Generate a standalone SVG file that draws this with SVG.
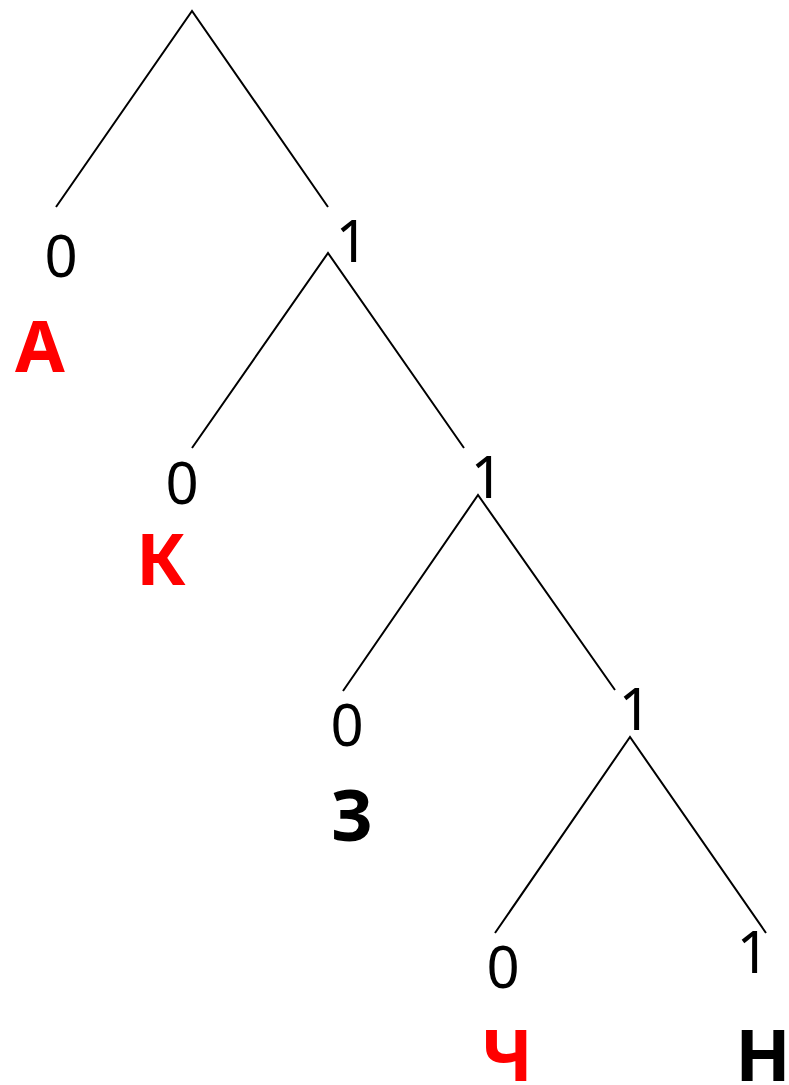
<svg xmlns="http://www.w3.org/2000/svg" width="789" height="1085" viewBox="0 0 789 1085">
<style>
.e{stroke:#000;stroke-width:2;fill:none}
.d{font-family:"Noto Sans","Open Sans",sans-serif;font-size:58px;fill:#000;text-anchor:middle}
.l{font-family:"Noto Sans","Open Sans",sans-serif;font-size:72px;font-weight:bold;text-anchor:middle}
.r{fill:#ff0000}
.k{fill:#000}
</style>
<rect width="789" height="1085" fill="#fff"/>
<g id="connectors">
<polyline class="e" points="56,207 192,11 328,207"/>
<polyline class="e" points="192,448 328,253 464,448"/>
<polyline class="e" points="343,691 478,495 615,690"/>
<polyline class="e" points="495,933 630,737 766,933"/>
</g>
<g id="n1"><text class="d" x="61" y="277">0</text><text class="l r" x="40" y="372">А</text></g>
<g id="n2"><text class="d" x="352" y="262">1</text></g>
<g id="n3"><text class="d" x="182" y="504">0</text><text class="l r" x="161" y="585">К</text></g>
<g id="n4"><text class="d" x="487" y="498">1</text></g>
<g id="n5"><text class="d" x="347" y="746">0</text><text class="l k" x="352" y="841">З</text></g>
<g id="n6"><text class="d" x="635" y="730">1</text></g>
<g id="n7"><text class="d" x="503" y="988">0</text><text class="l r" x="507" y="1081">Ч</text></g>
<g id="n8"><text class="d" x="753" y="973">1</text><text class="l k" x="763" y="1081">Н</text></g>
</svg>
